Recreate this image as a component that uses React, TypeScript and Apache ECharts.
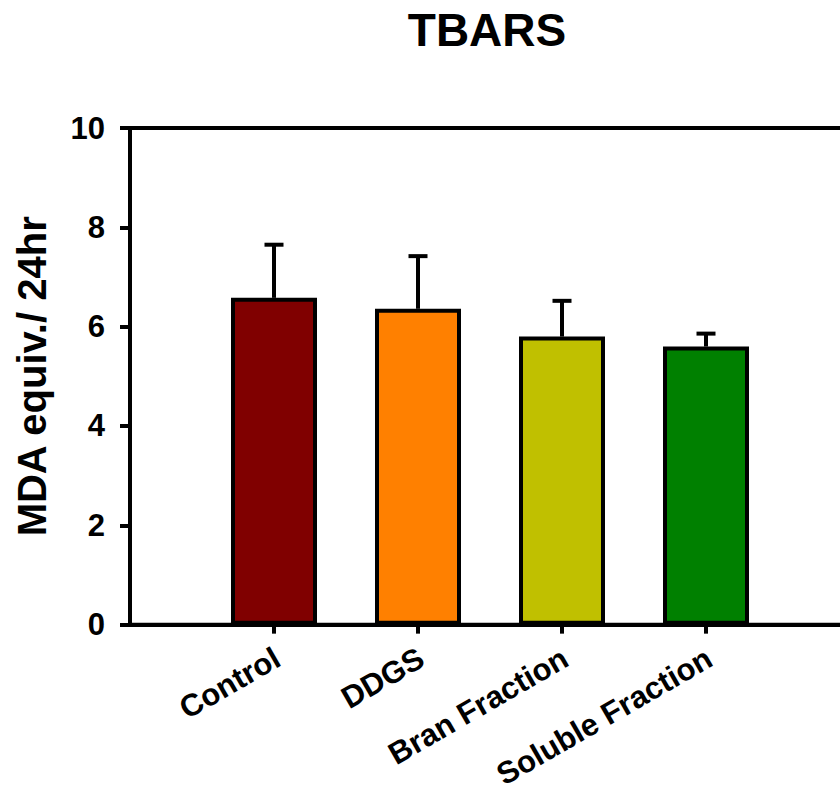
import React, { useEffect, useRef } from "react";
import * as echarts from "echarts";

// TBARS assay: mean MDA equivalents per 24 hr with upper error bars
const groups = ["Control", "DDGS", "Bran Fraction", "Soluble Fraction"];
const means = [6.58, 6.36, 5.8, 5.6];
const errors = [1.07, 1.06, 0.72, 0.26];
const barColors = ["#800000", "#FF8000", "#C0C000", "#008000"];
const yTicks = [0, 2, 4, 6, 8, 10];

const FONT = "'Liberation Sans', Arial, Helvetica, sans-serif";

export default function App() {
  const ref = useRef<HTMLDivElement>(null);

  useEffect(() => {
    if (!ref.current) return;
    const chart = echarts.init(ref.current, undefined, { renderer: "svg" });

    // empty slots at each end so the groups sit between the frame edges
    const cats = ["", ...groups, ""];
    const barData: any[] = [
      "-",
      ...means.map((v, i) => ({ value: v, itemStyle: { color: barColors[i] } })),
      "-",
    ];
    const errData = means.map((m, i) => [i + 1, m, m + errors[i]]);

    chart.setOption({
      animation: false,
      backgroundColor: "#fff",
      textStyle: { fontFamily: FONT },
      graphic: [
        {
          type: "text",
          x: 487,
          y: 30,
          style: {
            text: "TBARS",
            textAlign: "center",
            textVerticalAlign: "middle",
            font: `bold 46px ${FONT}`,
            fill: "#000",
          },
        },
      ],
      grid: {
        left: 130,
        top: 128,
        right: 10,
        bottom: 161,
        show: true,
        borderColor: "#000",
        borderWidth: 4,
        containLabel: false,
      },
      xAxis: {
        type: "category",
        data: cats,
        boundaryGap: false,
        axisLine: { lineStyle: { color: "#000", width: 4 } },
        axisTick: {
          length: 9,
          interval: (_i: number, v: string) => v !== "",
          lineStyle: { color: "#000", width: 4 },
        },
        axisLabel: {
          interval: 0,
          rotate: 30,
          margin: 33,
          padding: [0, -4, 0, 0],
          color: "#000",
          fontFamily: FONT,
          fontWeight: "bold",
          fontSize: 31,
        },
        splitLine: { show: false },
      },
      yAxis: {
        type: "value",
        min: yTicks[0],
        max: yTicks[yTicks.length - 1],
        interval: yTicks[1] - yTicks[0],
        name: "MDA equiv./ 24hr",
        nameLocation: "middle",
        nameGap: 78,
        nameTextStyle: {
          color: "#000",
          fontFamily: FONT,
          fontWeight: "bold",
          fontSize: 40,
        },
        axisLine: { show: true, lineStyle: { color: "#000", width: 4 } },
        axisTick: { show: true, length: 10, lineStyle: { color: "#000", width: 4 } },
        axisLabel: {
          margin: 25,
          color: "#000",
          fontFamily: FONT,
          fontWeight: "bold",
          fontSize: 31,
        },
        splitLine: { show: false },
      },
      series: [
        {
          type: "bar",
          data: barData,
          barWidth: 86,
          itemStyle: { borderColor: "#000", borderWidth: 4 },
          z: 2,
        },
        {
          type: "custom",
          data: errData,
          z: 3,
          renderItem: (_params: any, api: any) => {
            const base = api.coord([api.value(0), api.value(1)]);
            const top = api.coord([api.value(0), api.value(2)]);
            const half = 9.5;
            const style = { stroke: "#000", lineWidth: 4 };
            return {
              type: "group",
              children: [
                {
                  type: "line",
                  shape: { x1: base[0], y1: base[1], x2: top[0], y2: top[1] },
                  style,
                },
                {
                  type: "line",
                  shape: { x1: top[0] - half, y1: top[1], x2: top[0] + half, y2: top[1] },
                  style,
                },
              ],
            };
          },
        },
      ],
    });

    return () => chart.dispose();
  }, []);

  // the plot frame runs past the right edge of the visible area
  return (
    <div
      style={{
        position: "absolute",
        left: 0,
        top: 0,
        width: 840,
        height: 792,
        overflow: "hidden",
      }}
    >
      <div ref={ref} style={{ width: 860, height: 792 }} />
    </div>
  );
}
